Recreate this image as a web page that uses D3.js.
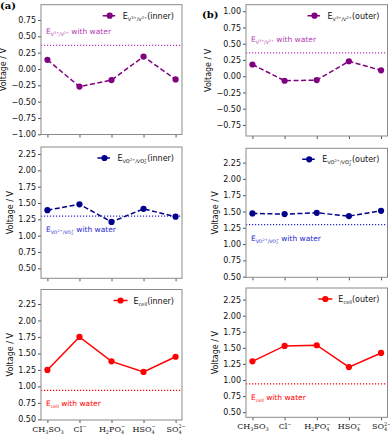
<!DOCTYPE html>
<html>
<head>
<meta charset="utf-8">
<script src="https://cdn.jsdelivr.net/npm/d3@7"></script>
<style>
  body { margin: 0; background: #fff; }
  svg { display: block; font-family: "DejaVu Sans", sans-serif; }
</style>
</head>
<body>
<svg id="fig" width="390" height="436"></svg>
<script>
// categories (anions), mathtext-style
const categories = ["CH_3SO_3", "Cl^-", "H_2PO_4^-", "HSO_4^-", "SO_4^{2-}"];

// series values, V
const v32Inner = [0.14, -0.27, -0.17, 0.19, -0.16];
const v32Outer = [0.18, -0.07, -0.06, 0.23, 0.09];
const vo2Inner = [1.39, 1.48, 1.21, 1.41, 1.29];
const vo2Outer = [1.47, 1.46, 1.48, 1.43, 1.51];
const cellInner = [1.25, 1.75, 1.38, 1.22, 1.45];
const cellOuter = [1.29, 1.53, 1.54, 1.20, 1.42];

// reference values with water
const waterV32 = 0.36;
const waterVO2 = 1.30;
const waterCell = 0.94;

// tick values
const ticksV32Inner = [-1.0, -0.75, -0.5, -0.25, 0, 0.25, 0.5, 0.75];
const ticksV32Outer = [-0.75, -0.5, -0.25, 0, 0.25, 0.5, 0.75, 1.0];
const ticksHigh = [0.5, 0.75, 1.0, 1.25, 1.5, 1.75, 2.0, 2.25];

const svg = d3.select("#fig");
const fmt = d3.format(".2f");

const PURPLE = "#800080", NAVY = "#00008b", RED = "#ff0000";

const panels = [
  { values: v32Inner, water: waterV32, ticks: ticksV32Inner, box: [41, 182, 4.7, 134.5], dom: [-1.003, 0.984],
    color: PURPLE, wcolor: "#b43cb4", dash: "5,2.5", sub: "V^{3+}/V^{2+}", tag: "(inner)", above: true, last: false },
  { values: v32Outer, water: waterV32, ticks: ticksV32Outer, box: [246, 387.5, 4.7, 136], dom: [-0.92, 1.10],
    color: PURPLE, wcolor: "#b43cb4", dash: "5,2.5", sub: "V^{3+}/V^{2+}", tag: "(outer)", above: true, last: false },
  { values: vo2Inner, water: waterVO2, ticks: ticksHigh, box: [41, 182, 147, 278.3], dom: [0.347, 2.357],
    color: NAVY, wcolor: "#2a2ad0", dash: "5,2.5", sub: "VO^{2+}/VO_2^+", tag: "(inner)", above: false, last: false },
  { values: vo2Outer, water: waterVO2, ticks: ticksHigh, box: [246, 387.5, 148.3, 277.3], dom: [0.49, 2.47],
    color: NAVY, wcolor: "#2a2ad0", dash: "5,2.5", sub: "VO^{2+}/VO_2^+", tag: "(outer)", above: false, last: false },
  { values: cellInner, water: waterCell, ticks: ticksHigh, box: [41, 182, 289.5, 420], dom: [0.49, 2.47],
    color: RED, wcolor: RED, dash: null, sub: "cell", tag: "(inner)", above: false, last: true },
  { values: cellOuter, water: waterCell, ticks: ticksHigh, box: [246, 387.5, 288, 417.3], dom: [0.42, 2.43],
    color: RED, wcolor: RED, dash: null, sub: "cell", tag: "(outer)", above: false, last: true }
];

// tiny mathtext: a_b, a^b, a_{..}, a^{..}; a sup right after a sub is stacked on it
function mathRun(sel, s, size, opt) {
  const re = /([_^])(\{[^}]*\}|.)|([^_^]+)/g;
  let m, cur = 0, prevSub = null;
  while ((m = re.exec(s))) {
    let t, kind;
    if (m[3]) { t = m[3]; kind = ""; }
    else { t = m[2].replace(/[{}]/g, ""); kind = m[1] === "_" ? "sub" : "sup"; }
    t = t.replace(/-/g, "−");
    const shift = opt.base + (kind === "sub" ? opt.subDy : kind === "sup" ? opt.supDy : 0);
    const ts = sel.append("tspan").attr("dy", shift - cur).attr("font-size", kind ? size * opt.scale : size).text(t);
    cur = shift;
    if (kind === "sup" && prevSub) ts.attr("dx", -prevSub.node().getComputedTextLength());
    prevSub = kind === "sub" ? ts : null;
  }
  return cur;
}

// "E" + subscript block + trailing text
function labelText(sel, sub, rest, size) {
  sel.append("tspan").text("E");
  const g = size * 0.62;
  const cur = mathRun(sel, sub, g, { base: 2, subDy: 1.2, supDy: -2, scale: 0.75 });
  sel.append("tspan").attr("dy", -cur).text(rest);
}

panels.forEach(p => {
  const [x0, x1, y0, y1] = p.box;
  const x = d3.scalePoint().domain(categories).range([x0, x1]).padding(0.2);
  const y = d3.scaleLinear().domain(p.dom).range([y1, y0]);
  const g = svg.append("g");

  // water reference line
  g.append("line")
    .attr("x1", x0).attr("x2", x1)
    .attr("y1", y(p.water)).attr("y2", y(p.water))
    .attr("stroke", p.wcolor).attr("stroke-width", 1.2)
    .attr("stroke-dasharray", "1.2,1.8");

  const wt = g.append("text")
    .attr("x", x0 + 5)
    .attr("y", p.above ? y(p.water) - 11 : y(p.water) + 16)
    .attr("font-size", 7.5).attr("fill", p.wcolor);
  labelText(wt, p.sub, " with water", 7.5);

  // series line + markers
  const line = d3.line().x((d, i) => x(categories[i])).y(d => y(d));
  g.append("path").datum(p.values)
    .attr("d", line).attr("fill", "none")
    .attr("stroke", p.color).attr("stroke-width", 1.5)
    .attr("stroke-dasharray", p.dash);
  g.selectAll("circle.pt").data(p.values).enter().append("circle")
    .attr("class", "pt")
    .attr("cx", (d, i) => x(categories[i])).attr("cy", d => y(d))
    .attr("r", 3.1).attr("fill", p.color);

  // axes
  const ya = g.append("g").attr("transform", `translate(${x0},0)`)
    .call(d3.axisLeft(y).tickValues(p.ticks).tickSize(3).tickPadding(2).tickFormat(fmt));
  const xa = g.append("g").attr("transform", `translate(0,${y1})`)
    .call(d3.axisBottom(x).tickSize(3).tickPadding(3));
  [ya, xa].forEach(a => {
    a.select(".domain").remove();
    a.selectAll("line").attr("stroke", "#555");
    a.selectAll("text").attr("fill", "#111").attr("font-size", 8).attr("font-family", "DejaVu Sans");
  });
  if (p.last) {
    xa.selectAll("text").attr("font-size", 8).attr("font-family", "DejaVu Serif")
      .attr("dy", null)
      .each(function(d) {
        const t = d3.select(this);
        t.text(null);
        mathRun(t, d, 8, { base: 8 * 0.71, subDy: 2.2, supDy: -3.2, scale: 0.62 });
      });
  } else {
    xa.selectAll("text").remove();
  }

  // frame
  g.append("rect").attr("x", x0).attr("y", y0)
    .attr("width", x1 - x0).attr("height", y1 - y0)
    .attr("fill", "none").attr("stroke", "#8a8a8a").attr("stroke-width", 1);

  // y label
  const bb = ya.node().getBBox();
  const lx = x0 + bb.x - 5;
  g.append("text")
    .attr("transform", `translate(${lx},${(y0 + y1) / 2}) rotate(-90)`)
    .attr("text-anchor", "middle").attr("font-size", 8).attr("fill", "#111")
    .text("Voltage / V");

  // legend
  const ly = y0 + 11;
  const lt = g.append("text").attr("x", x1 - 8).attr("y", ly + 3)
    .attr("text-anchor", "end").attr("font-size", 8).attr("fill", "#111");
  labelText(lt, p.sub, p.tag, 8);
  const lb = lt.node().getBBox();
  const hx1 = lb.x - 6, hx0 = hx1 - 14;
  g.append("line").attr("x1", hx0).attr("x2", hx1).attr("y1", ly).attr("y2", ly)
    .attr("stroke", p.color).attr("stroke-width", 1.5).attr("stroke-dasharray", p.dash);
  g.append("circle").attr("cx", (hx0 + hx1) / 2).attr("cy", ly).attr("r", 3.1).attr("fill", p.color);
});

// panel tags
svg.append("text").attr("x", 0).attr("y", 9)
  .attr("font-family", "DejaVu Serif").attr("font-weight", "bold").attr("font-size", 10).text("(a)");
svg.append("text").attr("x", 202).attr("y", 18)
  .attr("font-family", "DejaVu Serif").attr("font-weight", "bold").attr("font-size", 10).text("(b)");
</script>
</body>
</html>
